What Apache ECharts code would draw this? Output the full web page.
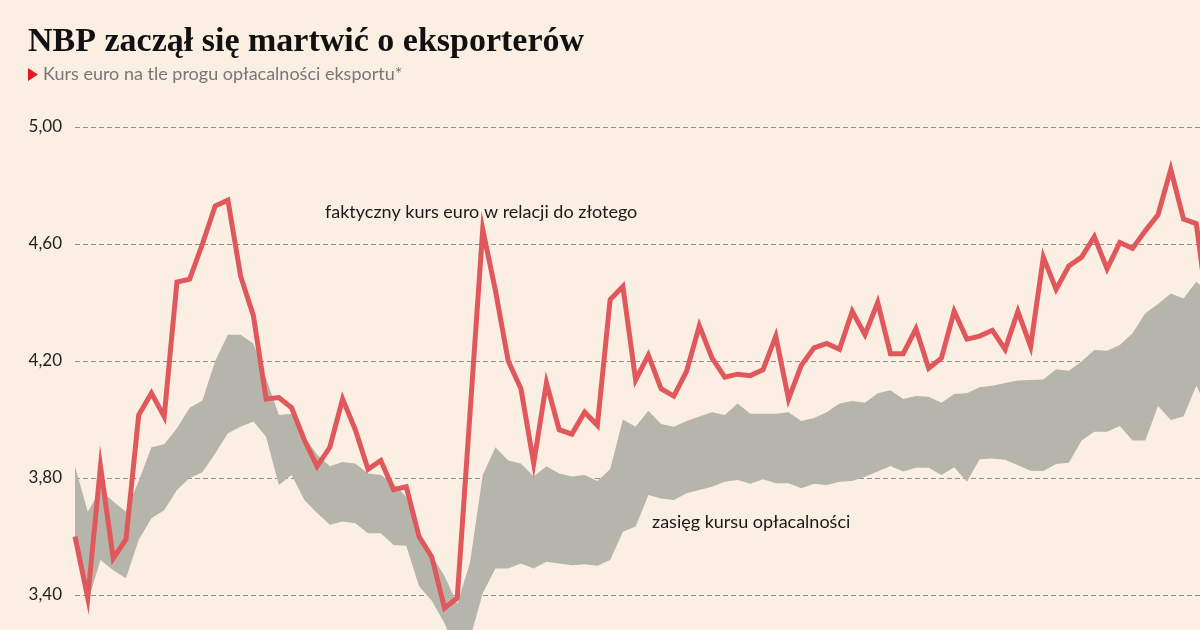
<!DOCTYPE html>
<html>
<head>
<meta charset="utf-8">
<script src="https://cdn.jsdelivr.net/npm/echarts@6/dist/echarts.min.js"></script>
<style>
html,body{margin:0;padding:0;background:#fbeee3;}
#chart{width:1200px;height:630px;}
</style>
</head>
<body>
<div id="chart"></div>
<script>
// Quarterly observations (labels are not shown in the chart)
const categories = Array.from({length: 90}, (_, i) => (2001 + Math.floor(i / 4)) + ' Q' + (i % 4 + 1));

// Actual EUR/PLN rate (red line)
const kursEuro = [
  3.60, 3.39, 3.84, 3.525, 3.59, 4.015, 4.09, 4.01, 4.47, 4.48,
  4.60, 4.73, 4.75, 4.49, 4.355, 4.07, 4.075, 4.04, 3.93, 3.84,
  3.905, 4.07, 3.965, 3.83, 3.86, 3.76, 3.77, 3.60, 3.53, 3.355,
  3.39, 4.02, 4.65, 4.44, 4.20, 4.105, 3.85, 4.125, 3.965, 3.95,
  4.025, 3.98, 4.41, 4.455, 4.135, 4.22, 4.105, 4.08, 4.165, 4.32,
  4.21, 4.145, 4.155, 4.15, 4.17, 4.285, 4.07, 4.185, 4.245, 4.26,
  4.24, 4.37, 4.29, 4.40, 4.225, 4.225, 4.31, 4.175, 4.21, 4.37,
  4.275, 4.285, 4.305, 4.24, 4.37, 4.25, 4.555, 4.445, 4.525, 4.555,
  4.625, 4.515, 4.605, 4.585, 4.645, 4.70, 4.855, 4.685, 4.67, 4.34
];

// Profitability threshold range: upper bound
const progGorny = [
  3.84, 3.685, 3.76, 3.72, 3.685, 3.79, 3.905, 3.915, 3.97, 4.04,
  4.065, 4.20, 4.29, 4.29, 4.26, 4.14, 4.015, 4.02, 3.94, 3.88,
  3.84, 3.855, 3.85, 3.815, 3.81, 3.78, 3.735, 3.595, 3.535, 3.465,
  3.37, 3.51, 3.81, 3.905, 3.86, 3.85, 3.805, 3.84, 3.815, 3.805,
  3.81, 3.79, 3.83, 4.00, 3.975, 4.03, 3.985, 3.975, 3.995, 4.01,
  4.025, 4.015, 4.055, 4.02, 4.02, 4.02, 4.025, 3.995, 4.005, 4.025,
  4.055, 4.063, 4.057, 4.09, 4.10, 4.07, 4.08, 4.078, 4.057, 4.087,
  4.09, 4.11, 4.115, 4.125, 4.133, 4.135, 4.137, 4.172, 4.167, 4.198,
  4.238, 4.235, 4.255, 4.295, 4.363, 4.395, 4.431, 4.414, 4.471, 4.436
];

// Profitability threshold range: lower bound
const progDolny = [
  3.58, 3.377, 3.52, 3.485, 3.457, 3.588, 3.662, 3.69, 3.759, 3.80,
  3.82, 3.884, 3.953, 3.975, 3.993, 3.941, 3.776, 3.81, 3.725, 3.68,
  3.64, 3.651, 3.645, 3.611, 3.611, 3.571, 3.568, 3.43, 3.38, 3.303,
  3.20, 3.25, 3.406, 3.491, 3.491, 3.508, 3.491, 3.514, 3.508, 3.502,
  3.505, 3.50, 3.52, 3.616, 3.634, 3.742, 3.73, 3.725, 3.748, 3.759,
  3.77, 3.787, 3.793, 3.78, 3.796, 3.782, 3.782, 3.765, 3.78, 3.776,
  3.787, 3.79, 3.804, 3.822, 3.841, 3.822, 3.835, 3.835, 3.81, 3.837,
  3.787, 3.864, 3.867, 3.862, 3.844, 3.825, 3.824, 3.848, 3.852, 3.928,
  3.958, 3.958, 3.978, 3.928, 3.928, 4.046, 3.998, 4.01, 4.115, 4.03
];

const yTicks = { min: 3.0, max: 5.0, interval: 0.4 };

const bandWidth = progGorny.map((v, i) => +(v - progDolny[i]).toFixed(3));

const chart = echarts.init(document.getElementById('chart'), null, { renderer: 'canvas' });
const SANS = 'Lato, "Open Sans", sans-serif';

chart.setOption({
  backgroundColor: '#fbeee3',
  animation: false,
  grid: { left: 75, top: 127, width: 1134, height: 585, containLabel: false, outerBoundsMode: 'none' },
  xAxis: {
    type: 'category',
    data: categories,
    boundaryGap: false,
    show: false
  },
  yAxis: {
    type: 'value',
    min: yTicks.min,
    max: yTicks.max,
    interval: yTicks.interval,
    axisLine: { show: false },
    axisTick: { show: false },
    axisLabel: {
      margin: 13,
      fontFamily: SANS,
      fontSize: 17,
      color: '#222',
      padding: [0, 0, 6, 0],
      formatter: v => v.toFixed(2).replace('.', ',')
    },
    splitLine: { lineStyle: { color: '#8f8f8f', width: 1, type: [5, 3] } }
  },
  series: [
    {
      name: 'dolny',
      type: 'line',
      data: progDolny,
      stack: 'band',
      symbol: 'none',
      lineStyle: { width: 0, opacity: 0 },
      silent: true
    },
    {
      name: 'zasięg kursu opłacalności',
      type: 'line',
      data: bandWidth,
      stack: 'band',
      symbol: 'none',
      lineStyle: { width: 0, opacity: 0 },
      areaStyle: { color: '#b6b5ab', opacity: 1 },
      silent: true
    },
    {
      name: 'faktyczny kurs euro w relacji do złotego',
      type: 'line',
      data: kursEuro,
      symbol: 'none',
      lineStyle: { color: '#e0585c', width: 5, join: 'miter' },
      z: 5
    }
  ],
  graphic: [
    {
      type: 'text',
      left: 28, top: 25,
      style: {
        text: 'NBP zaczął się martwić o eksporterów',
        font: 'bold 34px "Liberation Serif", "DejaVu Serif", serif',
        fill: '#111'
      }
    },
    {
      type: 'polygon',
      shape: { points: [[28, 68], [38, 74.5], [28, 81]] },
      style: { fill: '#e3191f' }
    },
    {
      type: 'text',
      left: 43, top: 65,
      style: {
        text: 'Kurs euro na tle progu opłacalności eksportu*',
        font: '18px ' + SANS,
        fill: '#777'
      }
    },
    {
      type: 'text',
      left: 325, top: 203,
      style: {
        text: 'faktyczny kurs euro w relacji do złotego',
        font: '18px ' + SANS,
        fill: '#1a1a1a'
      }
    },
    {
      type: 'text',
      left: 652, top: 513,
      style: {
        text: 'zasięg kursu opłacalności',
        font: '18px ' + SANS,
        fill: '#1a1a1a'
      }
    }
  ]
});
</script>
</body>
</html>
